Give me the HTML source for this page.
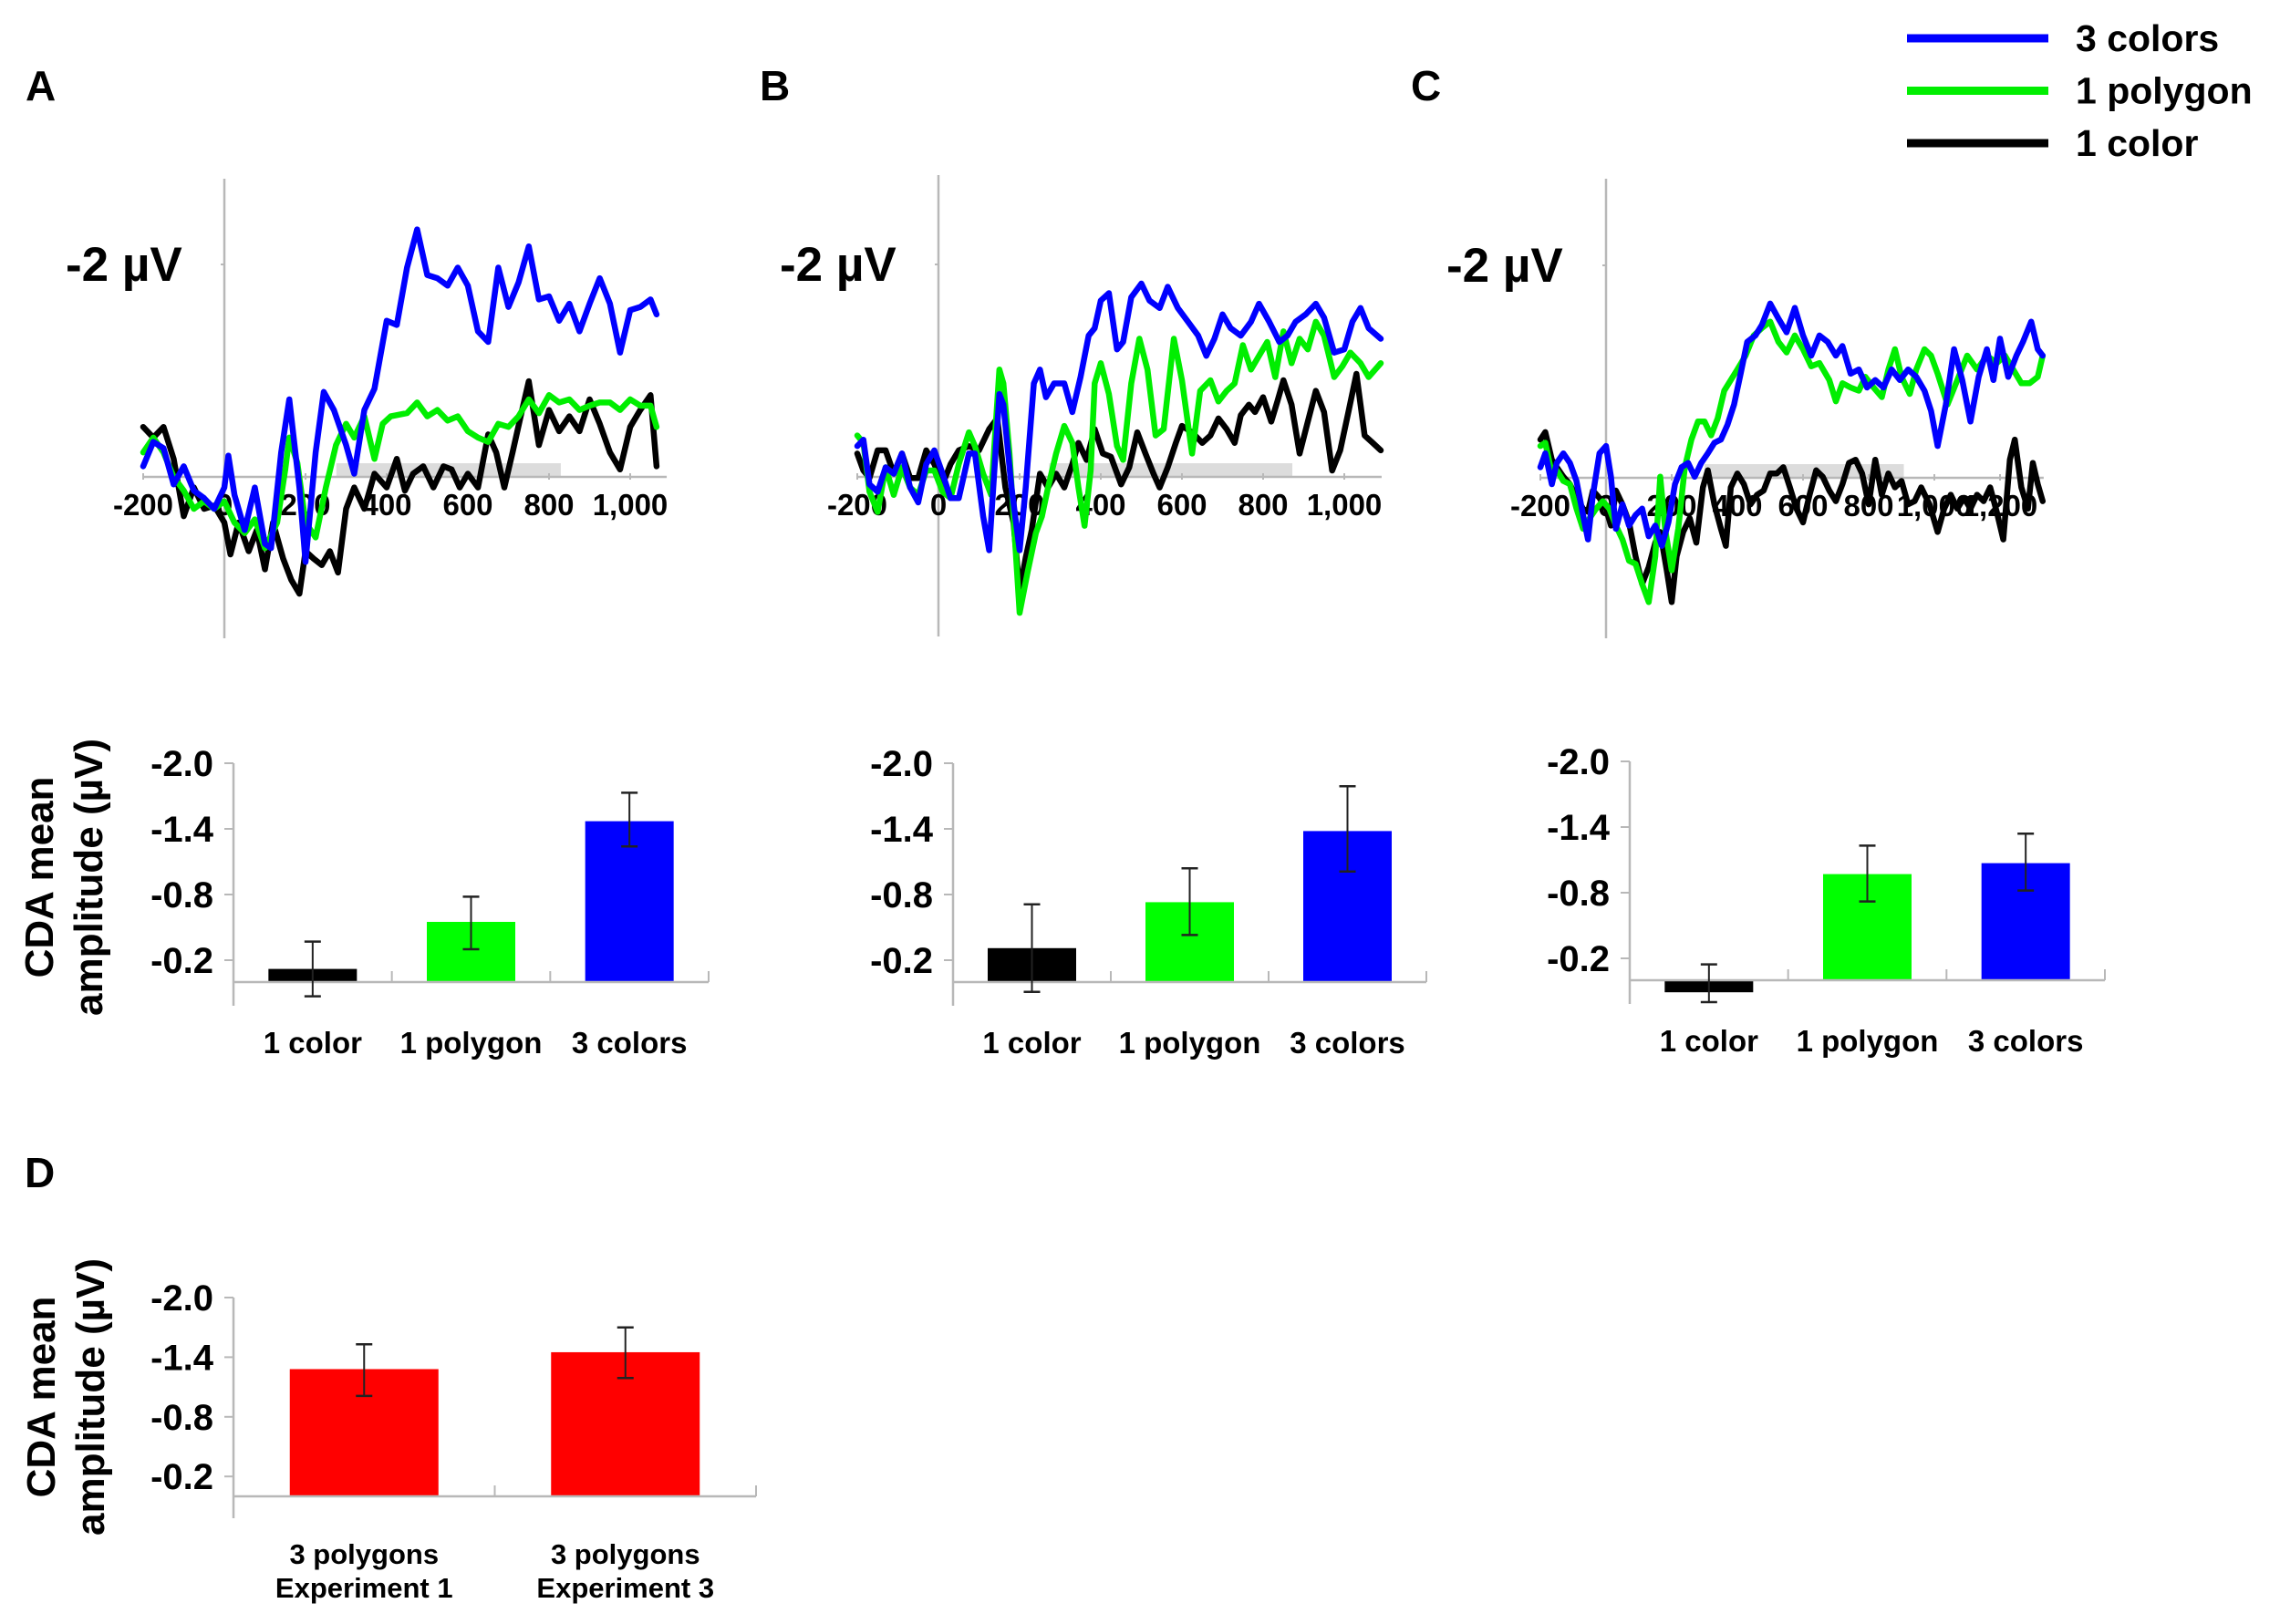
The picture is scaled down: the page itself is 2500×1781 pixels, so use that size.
<!DOCTYPE html>
<html><head><meta charset="utf-8"><style>
html,body{margin:0;padding:0;background:#fff;}
svg{display:block;}
text{font-family:"Liberation Sans",Arial,sans-serif;font-weight:bold;fill:#000;}
</style></head><body>
<svg id="fig" width="2500" height="1781" viewBox="0 0 2500 1781" xmlns="http://www.w3.org/2000/svg"></svg>
<script>
// ===== ERP waveform data (ms, µV; negative plotted upward) =====
const tABlue=[-200,-175,-150,-125,-100,-75,-50,-25,0,10,25,50,75,100,115,140,160,185,200,225,245,270,300,320,345,370,400,425,450,475,500,525,550,575,600,625,650,675,700,725,750,775,800,825,850,875,900,925,950,975,1000,1025,1050,1065];
const vABlue=[-0.10,-0.33,-0.27,0.07,-0.10,0.13,0.20,0.30,0.10,-0.20,0.17,0.50,0.10,0.63,0.67,-0.23,-0.73,0.10,0.80,-0.23,-0.80,-0.63,-0.30,-0.03,-0.63,-0.83,-1.47,-1.43,-1.97,-2.33,-1.90,-1.87,-1.80,-1.97,-1.80,-1.37,-1.27,-1.97,-1.60,-1.83,-2.17,-1.67,-1.70,-1.47,-1.63,-1.37,-1.63,-1.87,-1.63,-1.17,-1.57,-1.60,-1.67,-1.53];
const tAGreen=[-200,-175,-150,-125,-100,-75,-50,-25,0,25,50,75,100,130,150,160,180,200,225,250,275,300,320,345,370,390,410,450,475,500,525,550,575,600,625,650,675,700,725,750,775,800,825,850,875,900,925,950,975,1000,1025,1050,1065];
const vAGreen=[-0.23,-0.37,-0.23,0,0.13,0.30,0.23,0.30,0.23,0.43,0.53,0.40,0.67,0.43,-0.07,-0.37,-0.13,0.43,0.57,0.10,-0.30,-0.50,-0.37,-0.57,-0.17,-0.50,-0.57,-0.60,-0.70,-0.57,-0.63,-0.53,-0.57,-0.43,-0.37,-0.33,-0.50,-0.47,-0.57,-0.73,-0.60,-0.77,-0.70,-0.73,-0.63,-0.67,-0.70,-0.70,-0.63,-0.73,-0.67,-0.67,-0.47];
const tABlack=[-200,-175,-150,-125,-100,-75,-50,-25,0,15,35,60,80,100,120,145,165,185,200,220,240,260,280,300,320,345,370,400,425,445,465,490,515,540,560,580,600,625,650,670,690,710,730,750,775,800,825,850,875,900,925,950,975,1000,1025,1050,1065];
const vABlack=[-0.47,-0.37,-0.47,-0.17,0.37,0.10,0.30,0.27,0.43,0.73,0.43,0.70,0.50,0.87,0.43,0.77,0.97,1.10,0.70,0.77,0.83,0.70,0.90,0.30,0.10,0.30,-0.03,0.10,-0.17,0.13,-0.03,-0.10,0.10,-0.10,-0.07,0.10,-0.03,0.10,-0.40,-0.23,0.10,-0.23,-0.57,-0.90,-0.30,-0.63,-0.43,-0.57,-0.43,-0.73,-0.50,-0.23,-0.07,-0.47,-0.63,-0.77,-0.10];

const tBBlue=[-200,-185,-170,-150,-130,-110,-90,-70,-50,-30,-10,10,30,50,75,90,110,125,150,160,180,200,215,235,250,265,285,310,330,350,370,385,400,420,440,455,475,500,520,545,565,590,615,640,660,680,700,720,745,770,790,815,840,860,880,905,930,950,975,1000,1020,1040,1060,1090];
const vBBlue=[-0.29,-0.35,0.07,0.14,-0.09,-0.03,-0.22,0.10,0.24,-0.12,-0.25,-0.03,0.20,0.20,-0.22,-0.22,0.37,0.69,-0.78,-0.68,0.10,0.69,0.10,-0.88,-1.01,-0.75,-0.88,-0.88,-0.61,-0.94,-1.33,-1.40,-1.66,-1.73,-1.20,-1.27,-1.69,-1.82,-1.66,-1.59,-1.79,-1.59,-1.46,-1.33,-1.14,-1.30,-1.53,-1.40,-1.33,-1.46,-1.63,-1.46,-1.27,-1.33,-1.46,-1.53,-1.63,-1.50,-1.17,-1.20,-1.46,-1.59,-1.40,-1.30];
const tBGreen=[-200,-185,-170,-150,-130,-110,-90,-70,-50,-30,-10,10,30,50,75,90,110,130,150,160,175,200,220,240,255,270,290,310,330,345,360,375,385,400,420,440,455,475,495,515,535,555,580,600,625,645,670,690,710,730,750,770,790,810,830,850,870,890,910,930,950,975,995,1015,1040,1060,1090];
const vBGreen=[-0.39,-0.32,0.14,0.33,-0.09,0.17,-0.09,0.10,0.17,-0.06,-0.06,0.14,0.20,-0.12,-0.42,-0.29,-0.03,0.17,-1.01,-0.88,-0.22,1.28,0.89,0.53,0.37,0.10,-0.22,-0.48,-0.32,0.10,0.46,-0.06,-0.88,-1.07,-0.78,-0.29,-0.16,-0.88,-1.30,-1.01,-0.39,-0.45,-1.30,-0.91,-0.22,-0.81,-0.91,-0.71,-0.81,-0.88,-1.24,-1.01,-1.14,-1.27,-0.94,-1.37,-1.07,-1.30,-1.20,-1.46,-1.33,-0.94,-1.04,-1.17,-1.07,-0.94,-1.07];
const tBBlack=[-200,-185,-170,-150,-130,-110,-90,-70,-50,-30,-10,10,30,50,75,100,125,145,165,185,200,215,230,250,270,290,310,330,345,365,385,405,425,450,470,490,510,530,545,565,585,600,625,650,670,690,710,730,745,765,780,800,820,835,850,870,890,910,930,950,970,990,1010,1030,1050,1070,1090];
const vBBlack=[-0.22,-0.06,0.01,-0.25,-0.25,-0.03,-0.22,0.01,0.01,-0.25,-0.12,0.07,-0.12,-0.25,-0.29,-0.25,-0.45,-0.55,0.10,0.43,1.08,0.76,0.50,-0.03,0.10,-0.03,0.10,-0.12,-0.32,-0.16,-0.45,-0.22,-0.19,0.07,-0.09,-0.42,-0.22,-0.03,0.10,-0.09,-0.32,-0.48,-0.42,-0.32,-0.39,-0.55,-0.45,-0.32,-0.58,-0.68,-0.61,-0.75,-0.52,-0.71,-0.91,-0.68,-0.22,-0.52,-0.81,-0.61,-0.06,-0.25,-0.61,-0.97,-0.39,-0.32,-0.25];

const tCBlue=[-200,-185,-165,-150,-130,-110,-90,-70,-55,-40,-20,0,15,30,50,70,90,110,130,150,170,190,210,230,250,270,290,310,330,350,370,390,410,430,455,475,500,525,550,575,600,625,650,675,700,720,745,770,795,820,845,870,895,920,945,970,990,1010,1035,1060,1085,1110,1135,1160,1180,1200,1225,1250,1270,1295,1315,1330];
const vCBlue=[-0.10,-0.23,0.06,-0.14,-0.23,-0.14,0.03,0.35,0.58,0.16,-0.23,-0.30,-0.01,0.48,0.25,0.45,0.35,0.29,0.55,0.45,0.64,0.42,0.06,-0.10,-0.14,-0.01,-0.14,-0.23,-0.33,-0.36,-0.50,-0.69,-0.98,-1.28,-1.34,-1.44,-1.64,-1.50,-1.37,-1.60,-1.34,-1.15,-1.34,-1.28,-1.15,-1.24,-0.98,-1.02,-0.85,-0.92,-0.85,-1.02,-0.92,-1.02,-0.95,-0.82,-0.63,-0.30,-0.69,-1.21,-0.92,-0.53,-0.95,-1.21,-0.92,-1.31,-0.95,-1.15,-1.28,-1.47,-1.21,-1.15];
const tCGreen=[-200,-185,-165,-150,-130,-110,-90,-70,-50,-30,-10,10,30,50,70,90,110,130,150,165,180,200,220,240,260,280,300,320,340,360,380,400,425,450,475,500,525,550,575,600,625,650,680,700,720,745,770,790,815,840,860,880,900,925,945,970,990,1010,1040,1070,1100,1130,1160,1190,1215,1240,1265,1290,1315,1330];
const vCGreen=[-0.30,-0.33,-0.04,-0.07,0.03,0.06,0.29,0.48,0.38,0.29,0.22,0.29,0.45,0.58,0.78,0.81,1.00,1.17,0.74,-0.01,0.48,0.87,0.48,-0.10,-0.36,-0.53,-0.53,-0.40,-0.56,-0.82,-0.92,-1.02,-1.15,-1.34,-1.41,-1.47,-1.28,-1.18,-1.34,-1.21,-1.05,-1.08,-0.92,-0.72,-0.89,-0.85,-0.82,-0.95,-0.85,-0.76,-1.02,-1.21,-0.95,-0.79,-1.02,-1.21,-1.15,-0.98,-0.69,-0.92,-1.15,-1.02,-1.15,-1.08,-1.15,-1.02,-0.89,-0.89,-0.95,-1.15];
const tCBlack=[-200,-185,-165,-150,-130,-110,-90,-70,-55,-40,-20,0,15,30,50,70,90,110,130,150,165,185,200,215,235,255,275,295,310,330,350,365,380,400,420,440,460,480,500,520,540,560,580,600,620,640,660,680,700,720,740,760,780,800,820,840,860,880,900,920,940,960,985,1010,1030,1050,1070,1090,1110,1130,1150,1170,1190,1210,1230,1245,1265,1285,1300,1315,1330];
const vCBlack=[-0.36,-0.43,-0.17,-0.10,-0.01,0.06,0.19,0.29,0.32,0.12,0.19,0.29,0.45,0.12,0.25,0.42,0.74,1.00,0.84,0.61,0.51,0.87,1.17,0.74,0.51,0.38,0.61,0.09,-0.07,0.25,0.48,0.64,0.09,-0.04,0.06,0.25,0.16,0.12,-0.04,-0.04,-0.10,0.09,0.29,0.42,0.16,-0.07,-0.01,0.12,0.22,0.06,-0.14,-0.17,-0.04,0.25,-0.17,0.16,-0.04,0.09,0.03,0.25,0.22,0.09,0.25,0.51,0.29,0.16,0.29,0.19,0.29,0.16,0.22,0.09,0.32,0.58,-0.17,-0.36,0.09,0.29,-0.14,0.06,0.22];

const erpTicksAB=[-200,0,200,400,600,800,1000];
const erpTicksC=[-200,0,200,400,600,800,1000,1200];

// ===== Bar chart data (µV) =====
const barCats=["1 color","1 polygon","3 colors"];
const barAMeans=[-0.12,-0.55,-1.47];
const barAErrLo=[-0.37,-0.78,-1.73];
const barAErrHi=[0.13,-0.30,-1.24];
const barBMeans=[-0.31,-0.73,-1.38];
const barBErrLo=[-0.71,-1.04,-1.79];
const barBErrHi=[0.09,-0.43,-1.01];
const barCMeans=[0.11,-0.97,-1.07];
const barCErrLo=[-0.145,-1.23,-1.34];
const barCErrHi=[0.20,-0.72,-0.82];
const barDCats=[["3 polygons","Experiment 1"],["3 polygons","Experiment 3"]];
const barDMeans=[-1.28,-1.45];
const barDErrLo=[-1.53,-1.70];
const barDErrHi=[-1.01,-1.19];
const barTicks=[-2.0,-1.4,-0.8,-0.2];

const NS="http://www.w3.org/2000/svg";
const svg=document.getElementById('fig');
function mk(tag,attrs,parent){const e=document.createElementNS(NS,tag);for(const k in attrs)e.setAttribute(k,attrs[k]);(parent||svg).appendChild(e);return e;}
function txt(x,y,s,size,anchor,sx,parent,rot){
  const t=mk('text',{x:0,y:0,'font-size':size,'text-anchor':anchor||'start',transform:`translate(${x},${y})`+(rot?` rotate(${rot})`:'')+` scale(${sx||1},1)`},parent);
  t.textContent=s;return t;
}
const GRAY="#b8b8b8";

// Panel letters
[["A",28,110],["B",833,110],["C",1547,110],["D",27,1302]].forEach(p=>{
  const t=txt(p[1],p[2],p[0],46,'start',1);
  
  
});

// Legend
const legNames=["3 colors","1 polygon","1 color"];
const legColors=["#0000ff","#00ee00","#000000"];
const legG=mk('g',{});


legNames.forEach((n,i)=>{
  const y=42+i*57.5;
  const l=mk('line',{x1:2091,x2:2246,y1:y,y2:y,stroke:legColors[i],'stroke-width':9},legG);
  
  
  const t=txt(2276,y+14,n,41,'start',1.0,legG);
  
  
});

// ERP panels
function erp(id,cfg,series,ticks){
  const g=mk('g',{});
  
  
  const xS=ms=>cfg.ox+ms*cfg.pxMs;
  const yS=v=>cfg.zy+v*cfg.pxUV;
  const band=mk('rect',{x:xS(cfg.b0),y:cfg.zy-15,width:xS(cfg.b1)-xS(cfg.b0),height:15,fill:"#dcdcdc"},g);
  
  
  const ya=mk('line',{x1:cfg.ox,x2:cfg.ox,y1:cfg.top,y2:cfg.bottom,stroke:GRAY,'stroke-width':2.5},g);
  
  
  const xa=mk('line',{x1:xS(-200),x2:xS(cfg.xmax),y1:cfg.zy,y2:cfg.zy,stroke:GRAY,'stroke-width':2.5},g);
  
  
  mk('line',{x1:cfg.ox-4,x2:cfg.ox,y1:yS(-2),y2:yS(-2),stroke:GRAY,'stroke-width':2},g);
  const yl=txt(cfg.lx,yS(-2)+18,"-2 µV",53,'start',1,g);
  
  
  ticks.forEach(t=>{
    mk('line',{x1:xS(t),x2:xS(t),y1:cfg.zy-4,y2:cfg.zy+3,stroke:GRAY,'stroke-width':2},g);
    const s=t>=1000?String(t).replace(/(\d)(\d{3})$/,'$1,$2'):String(t);
    const tl=txt(xS(t),cfg.zy+42,s,33,'middle',1.0,g);
    
    
  });
  series.forEach(s=>{
    const d=s.t.map((t,i)=>(i?'L':'M')+xS(t).toFixed(1)+' '+yS(s.v[i]).toFixed(1)).join(' ');
    const p=mk('path',{d:d,fill:'none',stroke:s.c,'stroke-width':6.5,'stroke-linejoin':'round','stroke-linecap':'round'},g);
    
    
  });
}
erp('a',{ox:246,zy:523,pxMs:0.445,pxUV:116.5,top:196,bottom:700,xmax:1090,b0:276,b1:829,lx:72},
  [{t:tABlack,v:vABlack,c:'#000',n:'line-1-color'},{t:tAGreen,v:vAGreen,c:'#00ee00',n:'line-1-polygon'},{t:tABlue,v:vABlue,c:'#0000ff',n:'line-3-colors'}],erpTicksAB);
erp('b',{ox:1029,zy:523,pxMs:0.445,pxUV:116.5,top:192,bottom:698,xmax:1092,b0:273,b1:872,lx:855},
  [{t:tBBlack,v:vBBlack,c:'#000',n:'line-1-color'},{t:tBGreen,v:vBGreen,c:'#00ee00',n:'line-1-polygon'},{t:tBBlue,v:vBBlue,c:'#0000ff',n:'line-3-colors'}],erpTicksAB);
erp('c',{ox:1761,zy:524,pxMs:0.36,pxUV:116.5,top:196,bottom:700,xmax:1333,b0:300,b1:907,lx:1586},
  [{t:tCBlack,v:vCBlack,c:'#000',n:'line-1-color'},{t:tCGreen,v:vCGreen,c:'#00ee00',n:'line-1-polygon'},{t:tCBlue,v:vCBlue,c:'#0000ff',n:'line-3-colors'}],erpTicksC);

// Bar charts
function bars(id,cfg,cats,means,lo,hi,colors,title){
  const g=mk('g',{});
  
  
  const yS=v=>cfg.zy+v*cfg.px;
  const n=cats.length;
  const slot=(cfg.right-cfg.ox)/n;
  const cx=i=>cfg.ox+slot*(i+0.5);
  const ya=mk('line',{x1:cfg.ox,x2:cfg.ox,y1:yS(-2),y2:cfg.bottom,stroke:GRAY,'stroke-width':2.5},g);
  
  
  barTicks.forEach(t=>{
    mk('line',{x1:cfg.ox-10,x2:cfg.ox,y1:yS(t),y2:yS(t),stroke:GRAY,'stroke-width':2},g);
    const tl=txt(cfg.ox-22,yS(t)+14,t.toFixed(1),40,'end',1.0,g);
    
    
  });
  if(title){
    const t1=txt(cfg.tx1,cfg.ty,"CDA  mean",44,'middle',1.0,g,-90);
    
    
    const t2=txt(cfg.tx2,cfg.ty,"amplitude (µV)",44,'middle',1.0,g,-90);
    
    
  }
  cats.forEach((c,i)=>{
    const y0=yS(0),y1=yS(means[i]);
    const r=mk('rect',{x:cx(i)-cfg.bw/2,y:Math.min(y0,y1),width:cfg.bw,height:Math.max(2,Math.abs(y1-y0)),fill:colors[i]},g);
    
    
  });
  const xa=mk('line',{x1:cfg.ox,x2:cfg.right,y1:yS(0),y2:yS(0),stroke:GRAY,'stroke-width':2.5},g);
  
  
  for(let i=1;i<=n;i++) mk('line',{x1:cfg.ox+slot*i,x2:cfg.ox+slot*i,y1:yS(0)-12,y2:yS(0),stroke:GRAY,'stroke-width':2},g);
  cats.forEach((c,i)=>{
    const e=mk('g',{},g);
    
    
    const x=cx(i);
    mk('line',{x1:x,x2:x,y1:yS(lo[i]),y2:yS(hi[i]),stroke:'#222','stroke-width':2},e);
    mk('line',{x1:x-9,x2:x+9,y1:yS(lo[i]),y2:yS(lo[i]),stroke:'#222','stroke-width':2.5},e);
    mk('line',{x1:x-9,x2:x+9,y1:yS(hi[i]),y2:yS(hi[i]),stroke:'#222','stroke-width':2.5},e);
    const lines=Array.isArray(c)?c:[c];
    lines.forEach((s,k)=>{
      const tl=txt(x,cfg.ly+k*37,s,cfg.lf,'middle',cfg.lsx,g);
      
      
    });
  });
}
const cols3=['#000000','#00ff00','#0000ff'];
bars('a',{ox:256,right:777,zy:1077,px:120,bottom:1103,bw:97,ly:1155,lf:33,lsx:1.0,tx1:58,tx2:112,ty:962},barCats,barAMeans,barAErrLo,barAErrHi,cols3,true);
bars('b',{ox:1045,right:1564,zy:1077,px:120,bottom:1103,bw:97,ly:1155,lf:33,lsx:1.0},barCats,barBMeans,barBErrLo,barBErrHi,cols3,false);
bars('c',{ox:1787,right:2308,zy:1075,px:120,bottom:1101,bw:97,ly:1153,lf:33,lsx:1.0},barCats,barCMeans,barCErrLo,barCErrHi,cols3,false);
bars('d',{ox:256,right:829,zy:1641,px:109,bottom:1665,bw:163,ly:1715,lf:31,lsx:1.0,tx1:60,tx2:114,ty:1532},barDCats,barDMeans,barDErrLo,barDErrHi,['#ff0000','#ff0000'],true);
</script>
</body></html>
